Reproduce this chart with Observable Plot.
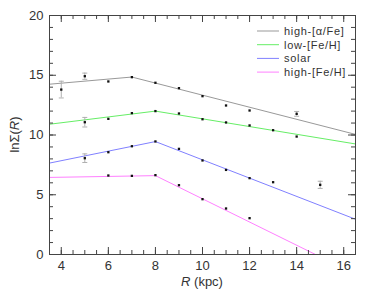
<!DOCTYPE html>
<html><head><meta charset="utf-8">
<script src="https://cdn.jsdelivr.net/npm/d3@7"></script>
<script src="https://cdn.jsdelivr.net/npm/@observablehq/plot@0.6"></script>
<style>body{margin:0;background:#fff}</style>
</head><body><div id="chart"></div>
<script>
// data points (R in kpc, ln Sigma, error)
const alphaR = [4, 5, 6, 7, 8, 9, 10, 11, 12, 14];
const alphaV = [13.8, 14.92, 14.48, 14.84, 14.37, 13.92, 13.25, 12.47, 12.05, 11.77];
const alphaE = [0.7, 0.26, 0.08, 0.08, 0.06, 0.06, 0.06, 0.08, 0.08, 0.2];
const lowR = [5, 6, 7, 8, 9, 10, 11, 12, 13, 14];
const lowV = [11.07, 11.35, 11.83, 12.0, 11.8, 11.32, 11.05, 10.8, 10.4, 9.87];
const lowE = [0.4, 0.08, 0.06, 0.06, 0.06, 0.06, 0.06, 0.08, 0.08, 0.1];
const solarR = [5, 6, 7, 8, 9, 10, 11, 12, 13, 15];
const solarV = [8.06, 8.56, 9.06, 9.46, 8.84, 7.87, 7.08, 6.39, 6.05, 5.83];
const solarE = [0.36, 0.08, 0.06, 0.06, 0.06, 0.06, 0.06, 0.08, 0.08, 0.3];
const highR = [6, 7, 8, 9, 10, 11, 12];
const highV = [6.61, 6.58, 6.64, 5.8, 4.63, 3.85, 3.04];
const highE = [0.08, 0.06, 0.06, 0.06, 0.06, 0.06, 0.1];
// broken-line fits (R, value)
const alphaFitR = [3.5, 7, 16.5];
const alphaFitV = [14.25, 14.85, 10.05];
const lowFitR = [3.5, 8, 16.5];
const lowFitV = [10.9, 12.0, 9.25];
const solarFitR = [3.5, 8, 16.5];
const solarFitV = [7.65, 9.45, 2.95];
const highFitR = [3.5, 8, 14.8];
const highFitV = [6.45, 6.6, 0];
const seriesNames = ["high-[α/Fe]", "low-[Fe/H]", "solar", "high-[Fe/H]"];
const seriesColors = ["#999999", "#66ee66", "#8080ff", "#ff80ff"];
const xMajor = [4, 6, 8, 10, 12, 14, 16];
const xMinor = d3.range(3.5, 16.51, 0.5);
const yMajor = [0, 5, 10, 15, 20];
const yMinor = d3.range(0, 20.01, 1);

const pts = (rs, vs, es) => rs.map((r, i) => ({r, v: vs[i], e: es[i]}));
const fit = (rs, vs, s) => rs.map((r, i) => ({r, v: vs[i], s}));
const points = [
  ...pts(alphaR, alphaV, alphaE), ...pts(lowR, lowV, lowE),
  ...pts(solarR, solarV, solarE), ...pts(highR, highV, highE)];
const fits = [
  ...fit(alphaFitR, alphaFitV, seriesNames[0]), ...fit(lowFitR, lowFitV, seriesNames[1]),
  ...fit(solarFitR, solarFitV, seriesNames[2]), ...fit(highFitR, highFitV, seriesNames[3])];

const W = 374, H = 291, mL = 49, mR = 19, mT = 15, mB = 37;
const fw = W - mL - mR, fh = H - mT - mB;
const axisColor = "#444";
const cap = {draw(ctx, size) { const w = Math.sqrt(size / Math.PI); ctx.moveTo(-w, 0); ctx.lineTo(w, 0); }};

const chart = Plot.plot({
  width: W, height: H,
  marginLeft: mL, marginRight: mR, marginTop: mT, marginBottom: mB,
  style: {fontFamily: "Liberation Sans, Arial, sans-serif", background: "#fff", color: "#333"},
  x: {domain: [3.5, 16.5], axis: null},
  y: {domain: [0, 20], axis: null},
  color: {domain: seriesNames, range: seriesColors},
  marks: [
    Plot.line(fits, {x: "r", y: "v", z: "s", stroke: "s", strokeWidth: 1}),
    Plot.ruleX(points.filter(d => d.e > 0.15), {x: "r", y1: d => d.v - d.e, y2: d => d.v + d.e, stroke: "#b0b0b0", strokeWidth: 1}),
    Plot.dot(points.filter(d => d.e > 0.15), {x: "r", y: d => d.v - d.e, symbol: cap, r: 2.5, stroke: "#b0b0b0", strokeWidth: 1}),
    Plot.dot(points.filter(d => d.e > 0.15), {x: "r", y: d => d.v + d.e, symbol: cap, r: 2.5, stroke: "#b0b0b0", strokeWidth: 1}),
    Plot.dot(points, {x: "r", y: "v", symbol: "square", r: 1.3, fill: "#111", stroke: "none"}),
    Plot.frame({stroke: axisColor, strokeWidth: 1}),
    Plot.tickY(yMajor, {y: d => d, insetRight: fw - 7, stroke: axisColor}),
    Plot.tickY(yMajor, {y: d => d, insetLeft: fw - 7, stroke: axisColor}),
    Plot.tickY(yMinor, {y: d => d, insetRight: fw - 4, stroke: axisColor}),
    Plot.tickY(yMinor, {y: d => d, insetLeft: fw - 4, stroke: axisColor}),
    Plot.tickX(xMajor, {x: d => d, insetTop: fh - 7, stroke: axisColor}),
    Plot.tickX(xMajor, {x: d => d, insetBottom: fh - 7, stroke: axisColor}),
    Plot.tickX(xMinor, {x: d => d, insetTop: fh - 4, stroke: axisColor}),
    Plot.tickX(xMinor, {x: d => d, insetBottom: fh - 4, stroke: axisColor}),
    Plot.axisX({ticks: xMajor, tickSize: 0, tickPadding: 6, fontSize: 13, label: null}),
    Plot.axisY({ticks: yMajor, tickSize: 0, tickPadding: 6, fontSize: 13, label: null})
  ]
});

const svg = d3.select(chart);
// axis labels
const xl = svg.append("text").attr("x", mL + fw / 2).attr("y", H - 5)
  .attr("text-anchor", "middle").attr("font-size", 13).attr("fill", "#333");
xl.append("tspan").attr("font-style", "italic").text("R");
xl.append("tspan").text(" (kpc)");
const yl = svg.append("text").attr("transform", `translate(19,${mT + fh / 2}) rotate(-90)`)
  .attr("text-anchor", "middle").attr("font-size", 13).attr("fill", "#333");
yl.append("tspan").text("lnΣ(");
yl.append("tspan").attr("font-style", "italic").text("R");
yl.append("tspan").text(")");
// legend
const lg = svg.append("g").attr("font-size", 11).attr("fill", "#333").attr("text-anchor", "start");
seriesNames.forEach((name, i) => {
  const y = 31 + i * 13.7;
  lg.append("line").attr("x1", 257).attr("x2", 279).attr("y1", y).attr("y2", y)
    .attr("stroke", seriesColors[i]).attr("stroke-width", 1);
  lg.append("text").attr("x", 284).attr("y", y).attr("dy", "0.35em").attr("text-anchor", "start")
    .attr("letter-spacing", "0.7px").text(name);
});

document.getElementById("chart").append(chart);
</script>
</body></html>
